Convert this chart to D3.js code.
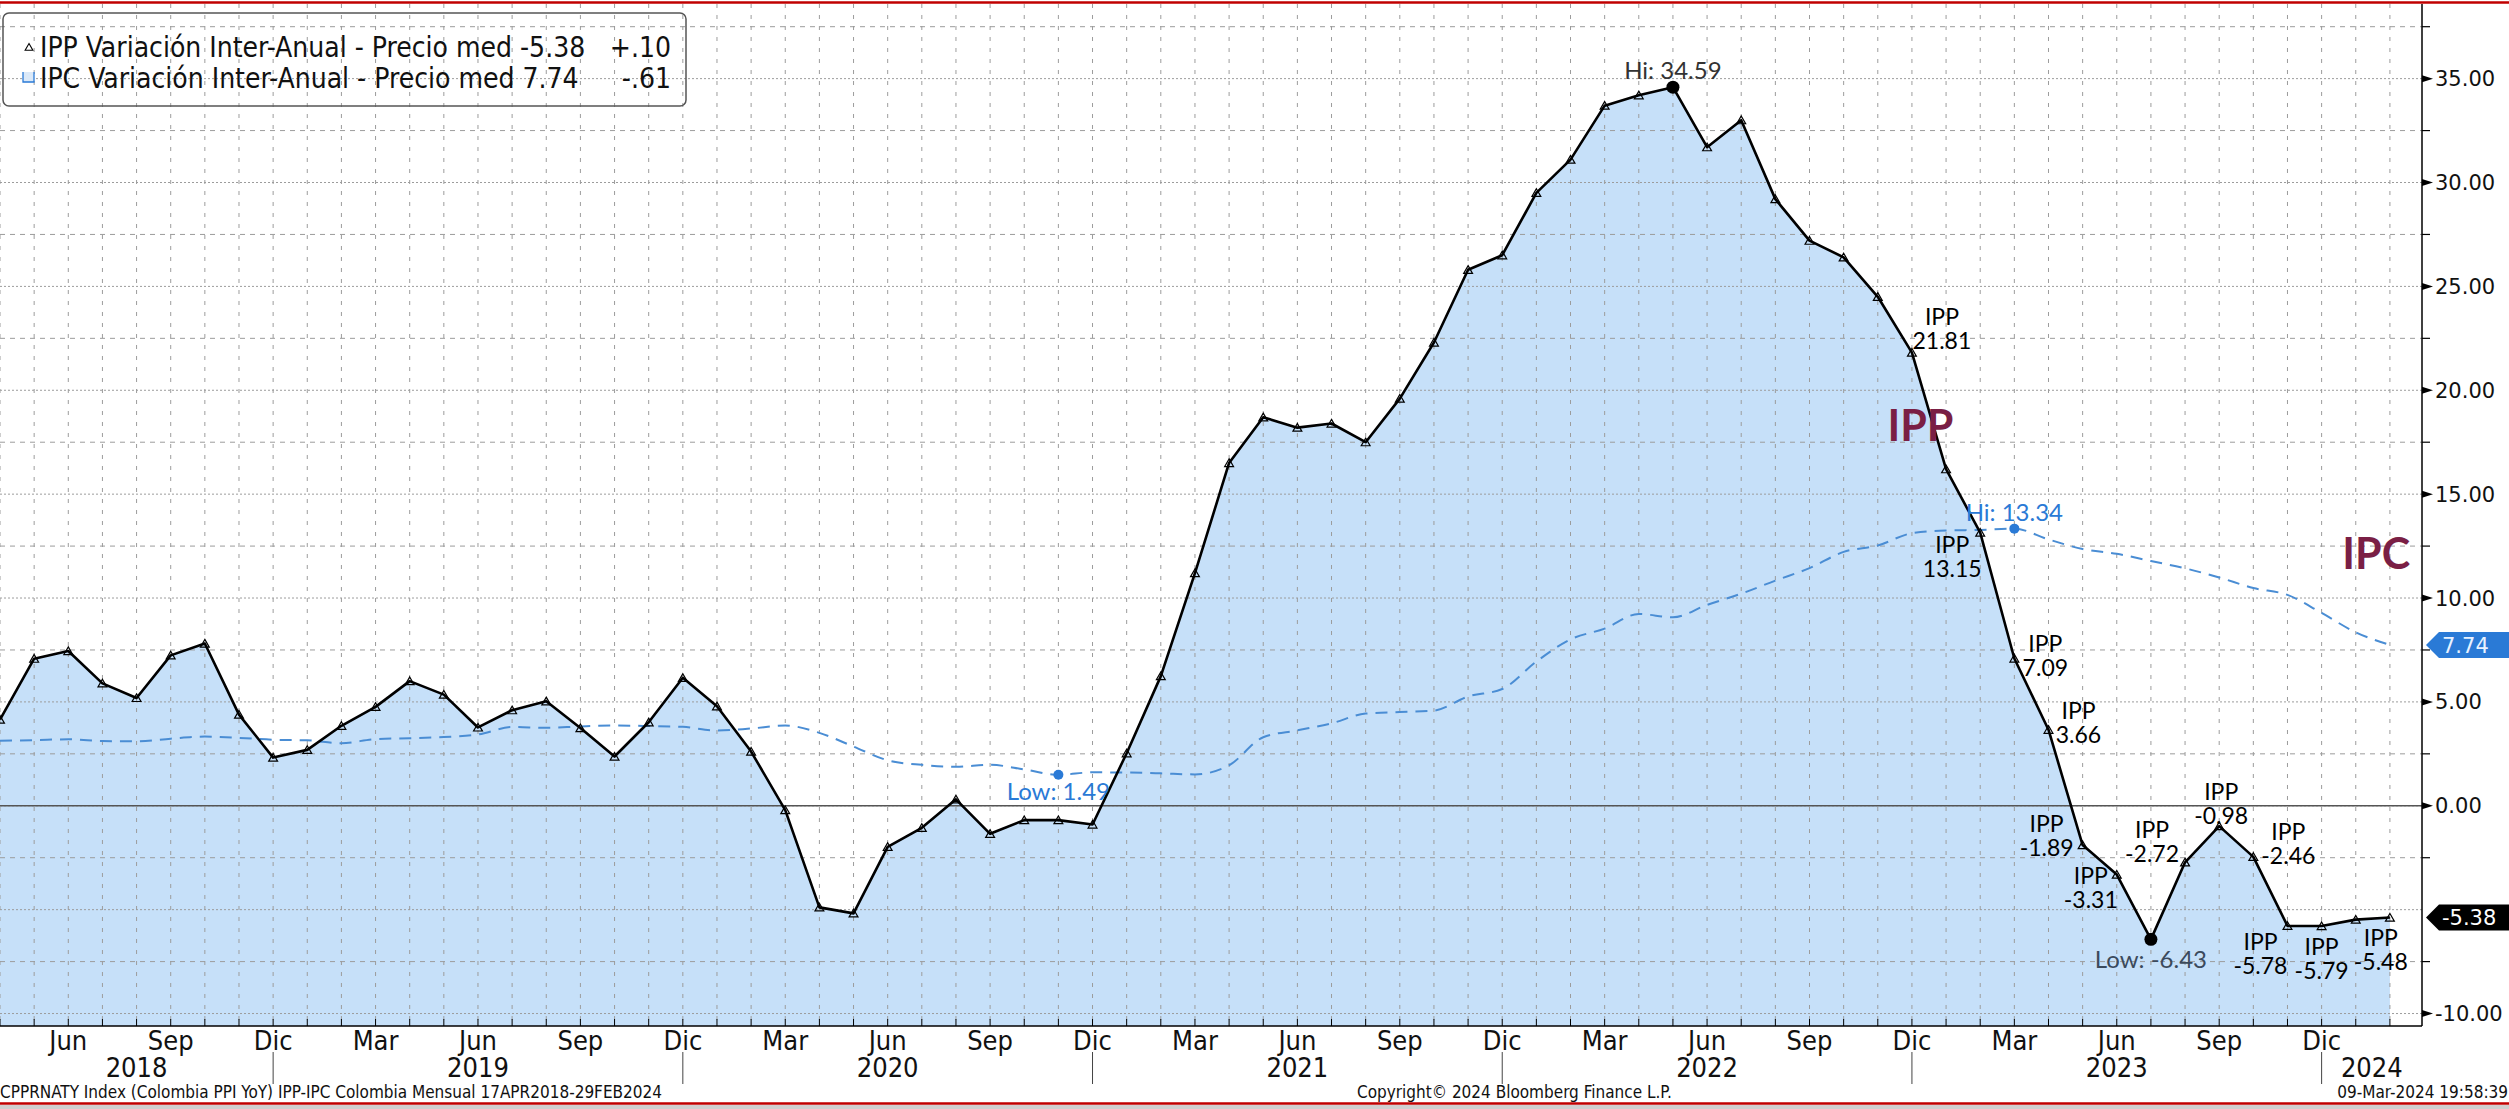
<!DOCTYPE html>
<html>
<head>
<meta charset="utf-8">
<script src="https://cdn.jsdelivr.net/npm/d3@7"></script>
<style>
body { margin: 0; background: #fff; }
svg { display: block; }
</style>
</head>
<body>
<div class="content"></div>
<script>
// monthly observations, Apr 2018 - Feb 2024
var months = [
    '2018-04','2018-05','2018-06','2018-07','2018-08','2018-09','2018-10','2018-11','2018-12',
    '2019-01','2019-02','2019-03','2019-04','2019-05','2019-06','2019-07','2019-08','2019-09','2019-10','2019-11','2019-12',
    '2020-01','2020-02','2020-03','2020-04','2020-05','2020-06','2020-07','2020-08','2020-09','2020-10','2020-11','2020-12',
    '2021-01','2021-02','2021-03','2021-04','2021-05','2021-06','2021-07','2021-08','2021-09','2021-10','2021-11','2021-12',
    '2022-01','2022-02','2022-03','2022-04','2022-05','2022-06','2022-07','2022-08','2022-09','2022-10','2022-11','2022-12',
    '2023-01','2023-02','2023-03','2023-04','2023-05','2023-06','2023-07','2023-08','2023-09','2023-10','2023-11','2023-12',
    '2024-01','2024-02'
];
var ippValues = [
    4.15, 7.08, 7.45, 5.89, 5.19, 7.24, 7.81, 4.39, 2.32,
    2.69, 3.85, 4.76, 6.00, 5.35, 3.77, 4.60, 5.03, 3.74, 2.37, 4.02, 6.16,
    4.79, 2.61, -0.21, -4.89, -5.18, -1.98, -1.06, 0.31, -1.35, -0.69, -0.69, -0.90,
    2.53, 6.24, 11.20, 16.50, 18.70, 18.20, 18.40, 17.50, 19.60, 22.30, 25.80, 26.50,
    29.50, 31.10, 33.70, 34.20, 34.59, 31.70, 33.00, 29.20, 27.20, 26.40, 24.50, 21.81,
    16.20, 13.15, 7.09, 3.66, -1.89, -3.31, -6.43, -2.72, -0.98, -2.46, -5.78, -5.79,
    -5.48, -5.38
];
var ipcValues = [
    3.13, 3.16, 3.20, 3.12, 3.10, 3.23, 3.33, 3.27, 3.18,
    3.15, 3.01, 3.21, 3.25, 3.31, 3.43, 3.79, 3.75, 3.82, 3.86, 3.84, 3.80,
    3.62, 3.72, 3.86, 3.51, 2.85, 2.19, 1.97, 1.88, 1.97, 1.75, 1.49, 1.61,
    1.60, 1.56, 1.51, 1.95, 3.30, 3.63, 3.97, 4.44, 4.51, 4.58, 5.26, 5.62,
    6.94, 8.01, 8.53, 9.23, 9.07, 9.67, 10.21, 10.84, 11.44, 12.22, 12.53, 13.12,
    13.25, 13.28, 13.34, 12.82, 12.36, 12.13, 11.78, 11.43, 10.99, 10.48, 10.15, 9.28,
    8.35, 7.74
];
var monthNames = ['Ene','Feb','Mar','Abr','May','Jun','Jul','Ago','Sep','Oct','Nov','Dic'];
var labelledMonths = ['Mar','Jun','Sep','Dic'];
var yTicks = [-10, -5, 0, 5, 10, 15, 20, 25, 30, 35];
var ippCalloutMonths = ['2022-12','2023-02','2023-03','2023-04','2023-05','2023-06','2023-08','2023-09','2023-10','2023-11','2023-12','2024-01'];
var seriesNames = ['IPP', 'IPC'];
var legendLabels = ['IPP Variación Inter-Anual - Precio med', 'IPC Variación Inter-Anual - Precio med'];
var footerLeft = 'CPPRNATY Index (Colombia PPI YoY) IPP-IPC Colombia  Mensual 17APR2018-29FEB2024';
var footerCenter = 'Copyright\u00A9 2024 Bloomberg Finance L.P.';
var footerRight = '09-Mar-2024 19:58:39';

var graph = {
    width: 2509,
    height: 1109,
    left: 0,
    right: 2422,
    top: 8,
    bottom: 1026,
    yDomain: [-10.6, 38.4],
    xPad: 0.94,
    fill: '#c6e0f9',
    grid: '#9c9c9c',
    ipcStroke: '#4a8dd4',
    blue: '#2a7ad6',
    maroon: '#7a1f45',
    narrow: "'Liberation Sans Narrow', 'DejaVu Sans Condensed', sans-serif",
    labelFont: "Lato, 'Open Sans', sans-serif",
    axisFont: "'DejaVu Sans', sans-serif",
    // [dx, dy] of each callout value text centre, from its point
    calloutOffsets: [[30,-12],[-28,36],[31,9],[30,5],[-36,3],[-26,25],[-33,-8],[2,-10],[35,-1],[-27,40],[0,45],[25,42]],
    calloutGap: 24,
    bigLabels: [{text: 'IPP', i: 56.25, v: 18.3}, {text: 'IPC', i: 69.6, v: 12.1}]
};

var locale = d3.formatLocale({decimal: '.', thousands: ',', grouping: [3], currency: ['', ''], minus: '-'});
var fmt = locale.format('.2f');
var fmtChg = function(v) { return locale.format('+.2f')(v).replace(/^([+-])0\./, '$1.'); };

window.onload = function() {
    drawChart();
};

function drawChart() {
    var svg = d3.select('.content').append('svg')
        .attr('width', graph.width)
        .attr('height', graph.height);

    svg.append('rect').attr('width', graph.width).attr('height', graph.height).attr('fill', '#fff');

    var x = d3.scaleLinear().domain([0, months.length - 1 + graph.xPad]).range([graph.left, graph.right]);
    var y = d3.scaleLinear().domain(graph.yDomain).range([graph.bottom, graph.top]);

    var ipp = months.map(function(m, i) { return {i: i, month: m, value: ippValues[i]}; });
    var ipc = months.map(function(m, i) { return {i: i, month: m, value: ipcValues[i]}; });

    // shaded area under IPP
    var area = d3.area()
        .x(function(d) { return x(d.i); })
        .y0(graph.bottom)
        .y1(function(d) { return y(d.value); });
    svg.append('path').datum(ipp).attr('d', area).attr('fill', graph.fill);

    // grid
    var grid = svg.append('g').attr('stroke', graph.grid).attr('stroke-width', 1);
    grid.selectAll('.vg').data(ipp).enter().append('line')
        .attr('x1', function(d) { return x(d.i); })
        .attr('x2', function(d) { return x(d.i); })
        .attr('y1', graph.top - 4)
        .attr('y2', graph.bottom)
        .attr('stroke-dasharray', '4,7');
    grid.selectAll('.hg').data(d3.range(-10, 38, 2.5)).enter().append('line')
        .attr('x1', graph.left)
        .attr('x2', graph.right)
        .attr('y1', function(d) { return y(d); })
        .attr('y2', function(d) { return y(d); })
        .attr('stroke-dasharray', function(d) { return d % 5 === 0 ? '2,2' : '5,5'; });

    svg.append('line')
        .attr('x1', graph.left).attr('x2', graph.right)
        .attr('y1', y(0)).attr('y2', y(0))
        .attr('stroke', '#555').attr('stroke-width', 1.6);

    // IPC dashed line
    var line = d3.line()
        .x(function(d) { return x(d.i); })
        .y(function(d) { return y(d.value); });
    svg.append('path').datum(ipc).attr('d', line.curve(d3.curveMonotoneX))
        .attr('fill', 'none')
        .attr('stroke', graph.ipcStroke)
        .attr('stroke-width', 2)
        .attr('stroke-dasharray', '12,8');

    // IPP line + markers
    svg.append('path').datum(ipp).attr('d', line.curve(d3.curveLinear))
        .attr('fill', 'none')
        .attr('stroke', '#000')
        .attr('stroke-width', 2.6)
        .attr('stroke-linejoin', 'round');
    svg.selectAll('.tri').data(ipp).enter().append('path')
        .attr('d', d3.symbol().type(d3.symbolTriangle).size(34))
        .attr('transform', function(d) { return 'translate(' + x(d.i) + ',' + (y(d.value) + 1) + ')'; })
        .attr('fill', 'none')
        .attr('stroke', '#000')
        .attr('stroke-width', 1.2);

    // IPP callouts
    ippCalloutMonths.forEach(function(m, k) {
        var d = ipp[months.indexOf(m)];
        var off = graph.calloutOffsets[k];
        var cx = x(d.i) + off[0], cy = y(d.value) + off[1];
        var t = svg.append('text')
            .attr('font-family', graph.labelFont)
            .attr('font-size', 23)
            .attr('fill', '#000')
            .attr('text-anchor', 'middle');
        t.append('tspan').attr('x', cx).attr('y', cy - graph.calloutGap).attr('dy', '0.35em').text(seriesNames[0]);
        t.append('tspan').attr('x', cx).attr('y', cy).attr('dy', '0.35em').text(fmt(d.value));
    });

    // hi / low markers
    var ippHi = d3.greatest(ipp, function(d) { return d.value; });
    var ippLo = d3.least(ipp, function(d) { return d.value; });
    var ipcHi = d3.greatest(ipc, function(d) { return d.value; });
    var ipcLo = d3.least(ipc, function(d) { return d.value; });
    var marks = [
        {d: ippHi, name: 'Hi', color: '#000', text: '#333', dy: -17, r: 6.5},
        {d: ippLo, name: 'Low', color: '#000', text: '#3b4a5c', dy: 20, r: 6.5},
        {d: ipcHi, name: 'Hi', color: graph.blue, text: graph.blue, dy: -16, r: 5},
        {d: ipcLo, name: 'Low', color: graph.blue, text: graph.blue, dy: 17, r: 5}
    ];
    marks.forEach(function(mk) {
        svg.append('circle')
            .attr('cx', x(mk.d.i)).attr('cy', y(mk.d.value)).attr('r', mk.r)
            .attr('fill', mk.color);
        svg.append('text')
            .attr('x', x(mk.d.i)).attr('y', y(mk.d.value) + mk.dy).attr('dy', '0.35em')
            .attr('text-anchor', 'middle')
            .attr('font-family', graph.labelFont)
            .attr('font-size', 24)
            .attr('fill', mk.text)
            .text(mk.name + ': ' + fmt(mk.d.value));
    });

    // big series labels
    graph.bigLabels.forEach(function(b) {
        svg.append('text')
            .attr('x', x(b.i)).attr('y', y(b.v)).attr('dy', '0.35em')
            .attr('text-anchor', 'middle')
            .attr('font-family', graph.labelFont)
            .attr('font-weight', 'bold')
            .attr('font-size', 43)
            .attr('fill', graph.maroon)
            .text(b.text);
    });

    // right axis
    svg.append('line')
        .attr('x1', graph.right).attr('x2', graph.right)
        .attr('y1', 4).attr('y2', graph.bottom)
        .attr('stroke', '#000').attr('stroke-width', 1.5);
    svg.selectAll('.minor').data(d3.range(-7.5, 38, 5)).enter().append('line')
        .attr('x1', graph.right).attr('x2', graph.right + 8)
        .attr('y1', function(d) { return y(d); })
        .attr('y2', function(d) { return y(d); })
        .attr('stroke', '#000').attr('stroke-width', 1.2);
    var yt = svg.selectAll('.yt').data(yTicks).enter().append('g')
        .attr('transform', function(d) { return 'translate(' + graph.right + ',' + y(d) + ')'; });
    yt.filter(function(d) { return d !== -5; }).append('path').attr('d', 'M0,-3.5L11,0L0,3.5Z').attr('fill', '#000');
    yt.filter(function(d) { return d !== -5; }).append('text')
        .attr('x', 13).attr('dy', '0.36em')
        .attr('font-family', graph.axisFont)
        .attr('font-size', 21)
        .attr('fill', '#111')
        .text(function(d) { return fmt(d); });

    // last value badges
    var badges = [
        {v: ipcValues[ipcValues.length - 1], fill: graph.blue, text: '#e8f2ff'},
        {v: ippValues[ippValues.length - 1], fill: '#000', text: '#fff'}
    ];
    badges.forEach(function(b) {
        var by = y(b.v);
        svg.append('path')
            .attr('d', 'M' + (graph.right + 4) + ',' + by + 'L' + (graph.right + 17) + ',' + (by - 13) +
                'L' + graph.width + ',' + (by - 13) + 'L' + graph.width + ',' + (by + 13) +
                'L' + (graph.right + 17) + ',' + (by + 13) + 'Z')
            .attr('fill', b.fill);
        svg.append('text')
            .attr('x', graph.right + 20).attr('y', by).attr('dy', '0.36em')
            .attr('font-family', graph.axisFont)
            .attr('font-size', 21)
            .attr('fill', b.text)
            .text(fmt(b.v));
    });

    // bottom axis
    svg.append('line')
        .attr('x1', graph.left).attr('x2', graph.right)
        .attr('y1', graph.bottom).attr('y2', graph.bottom)
        .attr('stroke', '#000').attr('stroke-width', 1.5);
    svg.selectAll('.xt').data(ipp).enter().append('line')
        .attr('x1', function(d) { return x(d.i); })
        .attr('x2', function(d) { return x(d.i); })
        .attr('y1', graph.bottom - 7)
        .attr('y2', graph.bottom)
        .attr('stroke', '#000');
    svg.selectAll('.xl').data(ipp.filter(function(d) {
            return labelledMonths.indexOf(monthNames[+d.month.slice(5) - 1]) >= 0;
        })).enter().append('text')
        .attr('x', function(d) { return x(d.i); })
        .attr('y', 1050)
        .attr('text-anchor', 'middle')
        .attr('font-family', graph.narrow)
        .attr('font-size', 27)
        .attr('fill', '#111')
        .text(function(d) { return monthNames[+d.month.slice(5) - 1]; });

    // year separators and year labels
    var decs = ipp.filter(function(d) { return d.month.slice(5) === '12'; });
    svg.selectAll('.ysep').data(decs).enter().append('line')
        .attr('x1', function(d) { return x(d.i); })
        .attr('x2', function(d) { return x(d.i); })
        .attr('y1', 1052).attr('y2', 1084)
        .attr('stroke', '#444').attr('stroke-width', 1);
    var years = d3.groups(ipp, function(d) { return d.month.slice(0, 4); });
    var bounds = [graph.left].concat(decs.map(function(d) { return x(d.i); })).concat([graph.right]);
    svg.selectAll('.yl').data(years).enter().append('text')
        .attr('x', function(d, k) { return (bounds[k] + bounds[k + 1]) / 2; })
        .attr('y', 1077)
        .attr('text-anchor', 'middle')
        .attr('font-family', graph.narrow)
        .attr('font-size', 27)
        .attr('fill', '#111')
        .text(function(d) { return d[0]; });

    // legend
    var lg = svg.append('g');
    lg.append('rect')
        .attr('x', 3).attr('y', 13).attr('width', 683).attr('height', 93).attr('rx', 6)
        .attr('fill', 'none').attr('stroke', '#555').attr('stroke-width', 1.5);
    lg.append('path').attr('d', d3.symbol().type(d3.symbolTriangle).size(26))
        .attr('transform', 'translate(29,48)')
        .attr('fill', 'none').attr('stroke', '#000').attr('stroke-width', 1.1);
    lg.append('path').attr('d', 'M23,72V82H34V72')
        .attr('fill', '#dbe9f8').attr('stroke', graph.blue).attr('stroke-width', 1.3);
    var last = ippValues.length - 1;
    var legendRows = [
        {name: legendLabels[0], v: ippValues[last], c: ippValues[last] - ippValues[last - 1], y: 57},
        {name: legendLabels[1], v: ipcValues[last], c: ipcValues[last] - ipcValues[last - 1], y: 88}
    ];
    legendRows.forEach(function(r) {
        lg.append('text').attr('x', 40).attr('y', r.y)
            .attr('font-family', graph.narrow).attr('font-size', 28).attr('fill', '#111')
            .text(r.name + ' ' + fmt(r.v));
        lg.append('text').attr('x', 671).attr('y', r.y).attr('text-anchor', 'end')
            .attr('font-family', graph.narrow).attr('font-size', 28).attr('fill', '#111')
            .text(fmtChg(r.c));
    });

    // footer
    var foot = svg.append('g').attr('font-family', graph.narrow).attr('font-size', 17).attr('fill', '#111');
    foot.append('text').attr('x', 0).attr('y', 1098).text(footerLeft);
    foot.append('text').attr('x', 1357).attr('y', 1098).text(footerCenter);
    foot.append('text').attr('x', graph.width - 1).attr('y', 1098).attr('text-anchor', 'end').text(footerRight);

    // frame lines
    svg.append('line').attr('x1', 0).attr('x2', graph.width).attr('y1', 2.5).attr('y2', 2.5)
        .attr('stroke', '#c00000').attr('stroke-width', 2.5);
    svg.append('rect').attr('x', 0).attr('y', 1105).attr('width', graph.width).attr('height', 4).attr('fill', '#cfcfcf');
    svg.append('line').attr('x1', 0).attr('x2', graph.width).attr('y1', 1103.5).attr('y2', 1103.5)
        .attr('stroke', '#c00000').attr('stroke-width', 2.5);
}
</script>
</body>
</html>
